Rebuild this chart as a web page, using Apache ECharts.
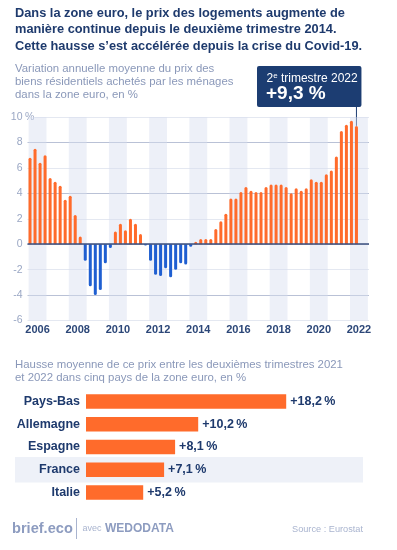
<!DOCTYPE html>
<html>
<head>
<meta charset="utf-8">
<script src="https://cdn.jsdelivr.net/npm/echarts@6/dist/echarts.min.js"></script>
<style>
  html, body { margin: 0; padding: 0; background: #fff; }
  #chart { width: 397px; height: 550px; }
</style>
</head>
<body>
<div id="chart"></div>
<script>
// données
const years = ['2006', '2007', '2008', '2009', '2010', '2011', '2012', '2013', '2014',
  '2015', '2016', '2017', '2018', '2019', '2020', '2021', '2022'];
const quarterNames = ['T1', 'T2', 'T3', 'T4'];
// variation annuelle du prix des logements, zone euro, par trimestre (2006 T1 -> 2022 T2)
const priceGrowth = [
  6.8, 7.5, 6.4, 7.0,
  5.2, 4.9, 4.6, 3.5,
  3.8, 2.3, 0.6, -1.3,
  -3.3, -4.0, -3.6, -1.5,
  -0.3, 1.0, 1.6, 1.1,
  2.0, 1.6, 0.8, -0.1,
  -1.3, -2.4, -2.5, -1.9,
  -2.6, -2.0, -1.5, -1.6,
  -0.2, 0.2, 0.4, 0.4,
  0.4, 1.2, 1.8, 2.4,
  3.6, 3.6, 4.1, 4.5,
  4.2, 4.1, 4.1, 4.5,
  4.7, 4.7, 4.7, 4.5,
  4.0, 4.4, 4.2, 4.4,
  5.1, 4.9, 4.9, 5.5,
  5.8, 6.9, 8.9, 9.4,
  9.7, 9.3
];
const countries = ['Pays-Bas', 'Allemagne', 'Espagne', 'France', 'Italie'];
const countryGrowth = [18.2, 10.2, 8.1, 7.1, 5.2];

const quarters = [];
years.forEach(y => quarterNames.forEach(q => quarters.push(q + ' ' + y)));

const NAVY = '#1e3a6d';
const GREY = '#8a98b9';
const ORANGE = '#ff6b2b';
const BLUE = '#1f5fd1';
const FONT = 'Liberation Sans, Arial, sans-serif';

// bandes grisées pour les années paires
const bands = years.filter((y, i) => i % 2 === 0).map(y => [
  { xAxis: +y + 0.055 }, { xAxis: +y + 0.945 }
]);

let mychart = echarts.init(document.getElementById('chart'));

mychart.setOption({
  animation: false,
  textStyle: { fontFamily: FONT },
  title: [
    {
      text: 'Dans la zone euro, le prix des logements augmente de\nmanière continue depuis le deuxième trimestre 2014.\nCette hausse s\u2019est accélérée depuis la crise du Covid-19.',
      left: 15, top: 5, padding: 0,
      textStyle: { color: NAVY, fontSize: 12.8, fontWeight: 'bold', lineHeight: 16.5, fontFamily: FONT }
    },
    {
      text: 'Variation annuelle moyenne du prix des\nbiens résidentiels achetés par les ménages\ndans la zone euro, en %',
      left: 15, top: 62, padding: 0,
      textStyle: { color: GREY, fontSize: 11.4, fontWeight: 'normal', lineHeight: 13, fontFamily: FONT }
    },
    {
      text: 'Hausse moyenne de ce prix entre les deuxièmes trimestres 2021\net 2022 dans cinq pays de la zone euro, en %',
      left: 15, top: 358.5, padding: 0,
      textStyle: { color: GREY, fontSize: 11.4, fontWeight: 'normal', lineHeight: 12.7, fontFamily: FONT }
    }
  ],
  grid: [
    { left: 27.5, right: 28, top: 117, bottom: 229.5 },
    { left: 86, right: 36, top: 390, height: 114 }
  ],
  xAxis: [
    {
      type: 'category', gridIndex: 0, data: quarters,
      axisLine: { show: false, onZero: false }, axisTick: { show: false }, axisLabel: { show: false }
    },
    {
      type: 'category', gridIndex: 0, data: years, position: 'bottom',
      axisLine: { show: false, onZero: false }, axisTick: { show: false },
      axisLabel: { interval: 1, margin: 4, color: '#2c4778', fontSize: 11, fontWeight: 'bold' }
    },
    {
      type: 'value', gridIndex: 0, min: 2006, max: 2023, show: false
    },
    {
      type: 'value', gridIndex: 1, min: 0, max: 25, show: false
    }
  ],
  yAxis: [
    {
      type: 'value', gridIndex: 0, min: -6, max: 10, interval: 2,
      axisLine: { show: false }, axisTick: { show: false },
      axisLabel: { margin: 5, color: '#9aa7c4', fontSize: 10.5 },
      splitLine: { lineStyle: { color: ['#e4e8f1', '#b9c1d6'], width: 1 } }
    },
    {
      type: 'category', gridIndex: 1, data: countries, inverse: true,
      axisLine: { show: false }, axisTick: { show: false },
      axisLabel: { margin: 6, color: NAVY, fontSize: 12.5, fontWeight: 'bold' }
    }
  ],
  series: [
    {
      name: 'bandes', type: 'line', xAxisIndex: 2, yAxisIndex: 0, data: [],
      markArea: { silent: true, itemStyle: { color: 'rgba(214,221,240,0.45)' }, data: bands }
    },
    {
      name: 'hausse', type: 'bar', xAxisIndex: 0, yAxisIndex: 0, barWidth: 3,
      data: priceGrowth.map(v => v >= 0 ? v : '-'),
      itemStyle: { color: ORANGE, borderRadius: [1.5, 1.5, 0, 0] },
      markLine: {
        silent: true, symbol: 'none', label: { show: false },
        lineStyle: { color: '#3b4f7e', width: 1.5, type: 'solid' },
        data: [{ yAxis: 0 }]
      }
    },
    {
      name: 'baisse', type: 'bar', xAxisIndex: 0, yAxisIndex: 0, barWidth: 3, barGap: '-100%',
      data: priceGrowth.map(v => v < 0 ? v : '-'),
      itemStyle: { color: BLUE, borderRadius: [0, 0, 1.5, 1.5] }
    },
    {
      name: 'pays', type: 'bar', xAxisIndex: 3, yAxisIndex: 1, barWidth: 14.5,
      data: countryGrowth,
      itemStyle: { color: ORANGE },
      label: {
        show: true, position: 'right', distance: 4, color: NAVY, fontSize: 12.5, fontWeight: 'bold',
        formatter: p => '+' + p.value.toFixed(1).replace('.', ',') + '\u202f%'
      }
    }
  ]
});

// annotations
const last = priceGrowth.length - 1;
const tip = mychart.convertToPixel({ xAxisIndex: 0, yAxisIndex: 0 }, [quarters[last], priceGrowth[last]]);
const france = mychart.convertToPixel({ yAxisIndex: 1 }, 'France');
const tenPos = mychart.convertToPixel({ yAxisIndex: 0 }, 10);

mychart.setOption({
  graphic: [
    { type: 'rect', z: -10, shape: { x: 15, y: france - 12.7, width: 348, height: 25.4 }, style: { fill: '#eef1f8' } },
    { type: 'text', x: 25, y: tenPos, style: { text: '%', fill: '#9aa7c4', font: '10.5px ' + FONT, verticalAlign: 'middle', backgroundColor: '#fff' } },
    { type: 'line', shape: { x1: tip[0], y1: 106, x2: tip[0], y2: tip[1] }, style: { stroke: '#1c3d72', lineWidth: 1 } },
    { type: 'rect', shape: { x: 257, y: 66, width: tip[0] + 5 - 257, height: 41, r: 2 }, style: { fill: '#1c3d72' } },
    {
      type: 'text', x: 266.5, y: 78.5,
      style: {
        text: '2{s|e} trimestre 2022', fill: '#fff', font: '12px ' + FONT, verticalAlign: 'middle',
        rich: { s: { fontSize: 8, verticalAlign: 'top', padding: [0, 0, 6, 0], fill: '#fff', fontFamily: FONT } }
      }
    },
    { type: 'text', x: 266, y: 94, style: { text: '+9,3 %', fill: '#fff', font: 'bold 19px ' + FONT, verticalAlign: 'middle' } },
    { type: 'text', x: 12, y: 529, style: { text: 'brief.eco', fill: '#8d9cc0', font: 'bold 14.6px ' + FONT, verticalAlign: 'middle' } },
    { type: 'line', shape: { x1: 76.5, y1: 518, x2: 76.5, y2: 539 }, style: { stroke: '#a9b4cf', lineWidth: 1 } },
    { type: 'text', x: 82.5, y: 529, style: { text: 'avec', fill: '#a9b4cf', font: '9px ' + FONT, verticalAlign: 'middle' } },
    { type: 'text', x: 105, y: 529, style: { text: 'WEDODATA', fill: '#8d9cc0', font: 'bold 12px ' + FONT, verticalAlign: 'middle' } },
    { type: 'text', x: 292, y: 529, style: { text: 'Source : Eurostat', fill: '#a9b4cf', font: '9.2px ' + FONT, verticalAlign: 'middle' } }
  ]
});

window.addEventListener('resize', () => {
  mychart.resize();
});
</script>
</body>
</html>
